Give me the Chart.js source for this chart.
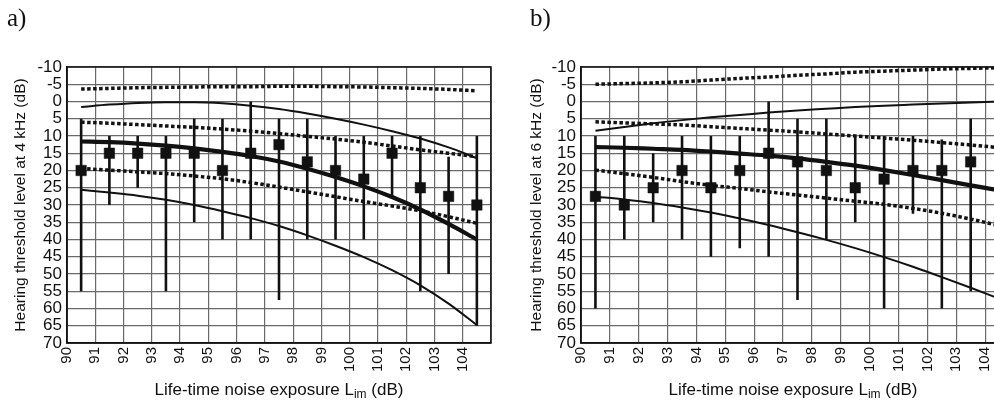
<!DOCTYPE html>
<html>
<head>
<meta charset="utf-8">
<script src="https://cdn.jsdelivr.net/npm/chart.js@4.4.1/dist/chart.umd.min.js"></script>
<style>
  html, body { margin: 0; padding: 0; background: #fff; overflow: hidden; }
  body { width: 994px; height: 409px; position: relative; }
  canvas { position: absolute; top: 0; }
  .tag { position: absolute; top: 4px; font: 25px "Liberation Serif", serif; color: #111; }
  .xt { position: absolute; top: 380px; text-align: center; font: 17px "Liberation Sans", Arial, sans-serif; color: #111; white-space: nowrap; }
  .xt sub { font-size: 12px; vertical-align: -3px; line-height: 0; }
</style>
</head>
<body>
<canvas id="chartA" width="500" height="409" style="left:0"></canvas>
<canvas id="chartB" width="530" height="409" style="left:500px"></canvas>
<div class="tag" style="left:7px">a)</div>
<div class="tag" style="left:530px">b)</div>
<div class="xt" style="left:67px;width:424px">Life-time noise exposure L<sub>im</sub> (dB)</div>
<div class="xt" style="left:581px;width:424px">Life-time noise exposure L<sub>im</sub> (dB)</div>

<script>
/* ── DATA ── */
const xTicks = [90, 91, 92, 93, 94, 95, 96, 97, 98, 99, 100, 101, 102, 103, 104, 105];
const yTicks = [-10, -5, 0, 5, 10, 15, 20, 25, 30, 35, 40, 45, 50, 55, 60, 65, 70];
const curveX = [90.5, 91.5, 92.5, 93.5, 94.5, 95.5, 96.5, 97.5, 98.5, 99.5, 100.5, 101.5, 102.5, 103.5, 104.5];

// panel a — 4 kHz
const ptsXA   = [90.5, 91.5, 92.5, 93.5, 94.5, 95.5, 96.5, 97.5, 98.5, 99.5, 100.5, 101.5, 102.5, 103.5, 104.5];
const meanA   = [20, 15, 15, 15, 15, 20, 15, 12.5, 17.5, 20, 22.5, 15, 25, 27.5, 30];
const errTopA = [5, 10, 10, 10, 5, 5, 0, 5, 5, 10, 10, 10, 10, 16, 10];
const errBotA = [55, 30, 25, 55, 35, 40, 40, 57.5, 40, 40, 40, 28, 55, 50, 65];
const dotTopA = [-3.6, -3.8, -4, -4.1, -4.2, -4.3, -4.3, -4.4, -4.4, -4.3, -4.2, -4, -3.8, -3.5, -3.1];
const thinUpA = [1.6, 0.9, 0.4, 0.2, 0.2, 0.5, 1.2, 2.2, 3.5, 5.0, 6.7, 8.6, 10.7, 13.3, 16.4];
const dotMidA = [6.0, 6.3, 6.7, 7.1, 7.5, 8.0, 8.6, 9.3, 10.1, 10.9, 11.8, 12.9, 14.0, 15.0, 16.0];
const thickA  = [11.6, 11.8, 12.2, 12.8, 13.6, 14.6, 15.8, 17.4, 19.5, 21.9, 24.6, 27.7, 31.3, 35.5, 40.0];
const dotLowA = [19.4, 19.9, 20.4, 20.9, 21.6, 22.4, 23.5, 24.8, 26.2, 27.6, 29.0, 30.3, 31.7, 33.4, 35.3];
const thinLoA = [25.6, 26.4, 27.3, 28.5, 30.0, 31.8, 33.8, 36.1, 38.8, 41.8, 45.1, 48.9, 53.3, 58.6, 64.8];

// panel b — 6 kHz
const ptsXB   = [90.5, 91.5, 92.5, 93.5, 94.5, 95.5, 96.5, 97.5, 98.5, 99.5, 100.5, 101.5, 102.5, 103.5, 104.5];
const meanB   = [27.5, 30, 25, 20, 25, 20, 15, 17.5, 20, 25, 22.5, 20, 20, 17.5, 35];
const errTopB = [10, 10, 15, 10, 10, 10, 0, 5, 5, 10, 10, 10, 11, 5, null];
const errBotB = [60, 40, 35, 40, 45, 42.5, 45, 57.5, 40, 35, 60, 32.5, 60, 55, null];
const dotTopB = [-5.0, -5.2, -5.4, -5.7, -6.2, -6.7, -7.1, -7.6, -8.0, -8.5, -8.8, -9.1, -9.4, -9.6, -9.8];
const thinUpB = [8.5, 7.4, 6.3, 5.4, 4.6, 3.9, 3.2, 2.6, 2.1, 1.6, 1.2, 0.9, 0.6, 0.3, 0.0];
const dotMidB = [5.9, 6.2, 6.5, 6.8, 7.3, 7.8, 8.3, 8.8, 9.4, 10.0, 10.6, 11.2, 11.9, 12.6, 13.4];
const thickB  = [13.2, 13.4, 13.7, 14.0, 14.5, 15.1, 15.7, 16.5, 17.5, 18.6, 19.9, 21.3, 22.8, 24.3, 25.8];
const dotLowB = [19.9, 20.9, 22.0, 23.2, 24.3, 25.2, 26.2, 27.1, 28.0, 28.9, 29.8, 31.0, 32.4, 34.1, 36.0];
const thinLoB = [27.6, 28.4, 29.4, 30.7, 32.2, 33.9, 35.8, 37.9, 40.1, 42.5, 45.1, 47.9, 50.9, 54.0, 57.2];

/* ── HELPERS ── */
const INK  = '#111';
const GRID = '#6a6a6a';
const SANS = '"Liberation Sans", Arial, sans-serif';

function pairs(xs, ys) { return xs.map((x, i) => ({ x: x, y: ys[i] })); }

// vertical error bars as one broken line: top, bottom, gap, ...
function errSegments(xs, tops, bots) {
  const out = [];
  xs.forEach((x, i) => {
    if (tops[i] == null) return;
    out.push({ x: x, y: tops[i] }, { x: x, y: bots[i] }, { x: x, y: null });
  });
  return out;
}

function curve(data, kind) {
  const ds = { type: 'line', data: data, pointRadius: 0, borderColor: INK, fill: false,
               cubicInterpolationMode: 'monotone', borderCapStyle: 'butt', order: 2 };
  if (kind === 'dot')   { ds.borderWidth = 3.5; ds.borderDash = [3.5, 2.5]; }
  if (kind === 'thin')  { ds.borderWidth = 2; }
  if (kind === 'thick') { ds.borderWidth = 4.2; }
  return ds;
}

const framePlugin = {
  id: 'frame',
  afterDraw(chart) {
    const a = chart.chartArea, c = chart.ctx;
    c.save(); c.strokeStyle = INK; c.lineWidth = 1.5;
    c.strokeRect(a.left, a.top, a.right - a.left, a.bottom - a.top);
    c.restore();
  }
};

function makeChart(id, cfg) {
  return new Chart(document.getElementById(id), {
    type: 'scatter',
    data: {
      datasets: [
        { type: 'scatter', data: pairs(cfg.px, cfg.mean), pointStyle: 'rect', pointRadius: 7.4,
          backgroundColor: INK, borderColor: INK, borderWidth: 0.5, order: 0 },
        curve(pairs(curveX, cfg.dotTop), 'dot'),
        curve(pairs(curveX, cfg.thinUp), 'thin'),
        curve(pairs(curveX, cfg.dotMid), 'dot'),
        curve(pairs(curveX, cfg.thick), 'thick'),
        curve(pairs(curveX, cfg.dotLow), 'dot'),
        curve(pairs(curveX, cfg.thinLo), 'thin'),
        { type: 'line', data: errSegments(cfg.px, cfg.top, cfg.bot), borderColor: INK, borderWidth: 2.6,
          pointRadius: 0, spanGaps: false, borderCapStyle: 'butt', order: 1 }
      ]
    },
    options: {
      responsive: false, animation: false,
      layout: { padding: { left: 0, top: 67, right: cfg.padRight, bottom: 0 } },
      plugins: { legend: { display: false }, tooltip: { enabled: false } },
      scales: {
        x: {
          type: 'linear', min: 90, max: 105,
          afterBuildTicks: s => { s.ticks = xTicks.map(v => ({ value: v })); },
          afterFit: s => { s.height = 66; s.paddingLeft = 0; s.paddingRight = 0; },
          grid: { color: GRID, lineWidth: 1.2, drawTicks: false },
          border: { color: INK, width: 1.5 },
          ticks: { autoSkip: false, minRotation: 90, maxRotation: 90, padding: 4, color: INK,
                   font: { family: SANS, size: 15 },
                   callback: v => (v === 105 ? '' : String(v)) }
        },
        y: {
          type: 'linear', reverse: true, min: -10, max: 70,
          afterBuildTicks: s => { s.ticks = yTicks.map(v => ({ value: v })); },
          afterFit: s => { s.width = cfg.yWidth; s.paddingTop = 0; s.paddingBottom = 0; },
          grid: { color: GRID, lineWidth: 1.2, drawTicks: false },
          border: { color: INK, width: 1.5 },
          ticks: { autoSkip: false, padding: 5, color: INK, font: { family: SANS, size: 17 } },
          title: { display: true, text: cfg.yTitle, color: INK, font: { family: SANS, size: 15.5 },
                   padding: { top: cfg.titlePad, bottom: 0 } }
        }
      }
    },
    plugins: [framePlugin]
  });
}

makeChart('chartA', {
  px: ptsXA, mean: meanA, top: errTopA, bot: errBotA,
  dotTop: dotTopA, thinUp: thinUpA, dotMid: dotMidA, thick: thickA, dotLow: dotLowA, thinLo: thinLoA,
  yWidth: 67, padRight: 9, titlePad: 11, yTitle: 'Hearing threshold level at 4 kHz (dB)'
});
makeChart('chartB', {
  px: ptsXB, mean: meanB, top: errTopB, bot: errBotB,
  dotTop: dotTopB, thinUp: thinUpB, dotMid: dotMidB, thick: thickB, dotLow: dotLowB, thinLo: thinLoB,
  yWidth: 81, padRight: 16, titlePad: 27, yTitle: 'Hearing threshold level at 6 kHz (dB)'
});
</script>
</body>
</html>
